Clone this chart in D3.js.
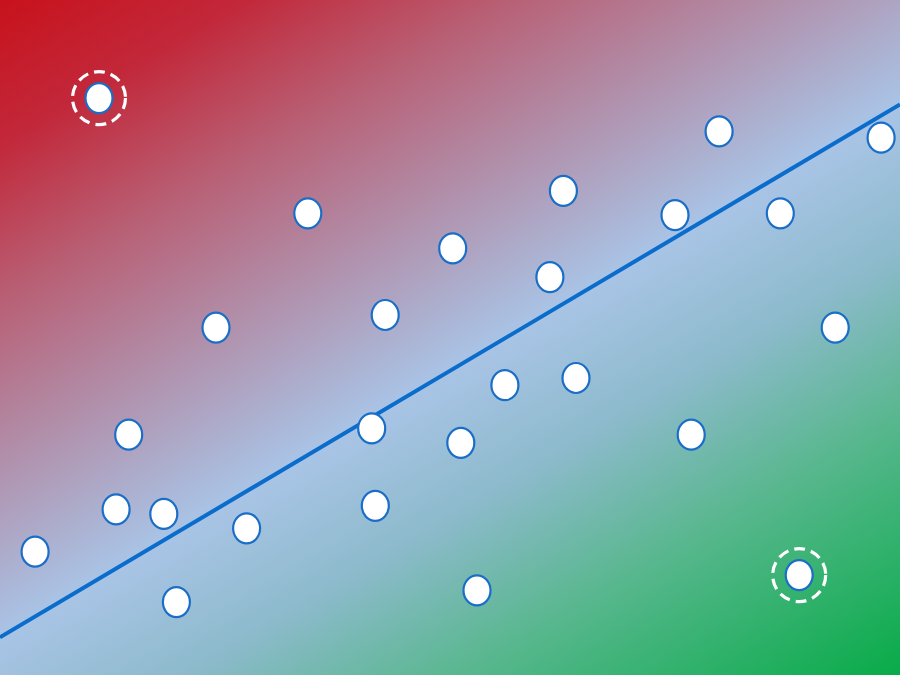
<!DOCTYPE html>
<html>
<head>
<meta charset="utf-8">
<script src="https://cdn.jsdelivr.net/npm/d3@7"></script>
<style>
html,body{margin:0;padding:0;background:#fff;}
svg{display:block;}
</style>
</head>
<body>
<div id="chart"></div>
<script>
// Data (x in 0..10, y in 0..7.5)
const xValues = [1.10, 3.42, 2.40, 1.43, 1.29, 1.82, 0.39, 1.96, 2.74, 4.28, 5.03, 4.13, 4.17, 5.12, 5.61, 5.30, 6.26, 6.11, 6.40, 7.50, 7.99, 8.67, 9.28, 7.68, 9.79, 8.88];
const yValues = [6.41, 5.13, 3.86, 2.67, 1.84, 1.79, 1.37, 0.81, 1.63, 4.00, 4.74, 2.74, 1.88, 2.58, 3.22, 0.94, 5.38, 4.42, 3.30, 5.11, 6.04, 5.13, 3.86, 2.67, 5.97, 1.11];
const outliers = [0, 25]; // indices of highlighted points
const trendX = [0, 10];
const trendY = [0.42, 6.34];

const W = 900, H = 675;
const x = d3.scaleLinear().domain([0, 10]).range([0, W]);
const y = d3.scaleLinear().domain([0, 7.5]).range([H, 0]);

const svg = d3.select("#chart").append("svg").attr("width", W).attr("height", H);
const defs = svg.append("defs");

// gradient perpendicular to trend line
const dx = x(trendX[1]) - x(trendX[0]);
const dy = y(trendY[1]) - y(trendY[0]);
let px = -dy, py = dx;
const len = Math.hypot(px, py);
px /= len; py /= len;
const proj = (X, Y) => X * px + Y * py;
const pMax = proj(W, H);
const pLine = proj(x(trendX[0]), y(trendY[0])) / pMax;
const grad = defs.append("linearGradient")
  .attr("id", "bg").attr("gradientUnits", "userSpaceOnUse")
  .attr("x1", 0).attr("y1", 0).attr("x2", px * pMax).attr("y2", py * pMax);
const stops = [
  [0, "#c8121c"],
  [0.12, "#c2283a"],
  [0.25, "#b86075"],
  [pLine, "#a9c4e6"],
  [0.65, "#8cbacb"],
  [0.78, "#5ab790"],
  [1, "#08ab48"]
];
stops.forEach(s => grad.append("stop").attr("offset", s[0]).attr("stop-color", s[1]));

svg.append("rect").attr("width", W).attr("height", H).attr("fill", "url(#bg)");

// trend line
svg.append("line")
  .attr("x1", x(trendX[0])).attr("y1", y(trendY[0]))
  .attr("x2", x(trendX[1])).attr("y2", y(trendY[1]))
  .attr("stroke", "#0a6dcc").attr("stroke-width", 4);

const pts = xValues.map((v, i) => ({x: v, y: yValues[i], i}));

// outlier rings
svg.selectAll(".ring").data(pts.filter(d => outliers.includes(d.i)))
  .join("circle").attr("class", "ring")
  .attr("cx", d => x(d.x)).attr("cy", d => y(d.y)).attr("r", 26.5)
  .attr("fill", "none").attr("stroke", "#ffffff").attr("stroke-width", 3.2)
  .attr("stroke-dasharray", "11,6");

// points
svg.selectAll(".pt").data(pts)
  .join("ellipse").attr("class", "pt")
  .attr("cx", d => x(d.x)).attr("cy", d => y(d.y))
  .attr("rx", 13.5).attr("ry", 15)
  .attr("fill", "#ffffff").attr("stroke", "#1a6ec8").attr("stroke-width", 2.2);
</script>
</body>
</html>
